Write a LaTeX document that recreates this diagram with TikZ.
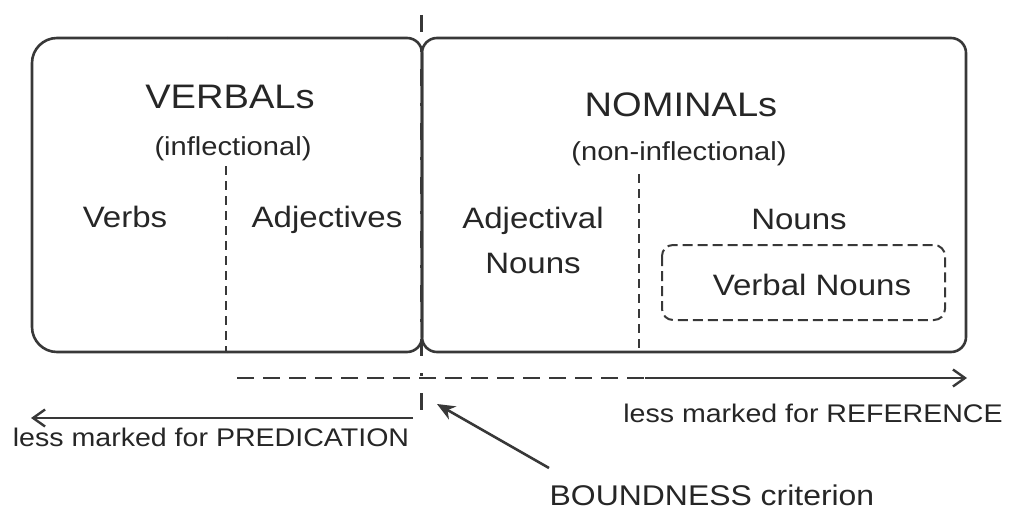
\documentclass[tikz,border=0pt]{standalone}
\usepackage{fontspec}
\setmainfont{Liberation Sans}[FakeStretch=1.12]
\usetikzlibrary{arrows.meta}
\definecolor{ln}{HTML}{383838}
\definecolor{tx}{HTML}{262626}
\begin{document}
\begin{tikzpicture}[x=1pt,y=-1pt,
  lbl/.style={inner sep=0pt, anchor=base, text=tx},
  title/.style={lbl, font=\fontsize{34}{40}\selectfont},
  sub/.style={lbl, font=\fontsize{26}{30}\selectfont},
  cat/.style={lbl, font=\fontsize{29.5}{45}\selectfont, align=center},
  note/.style={lbl, font=\fontsize{25.5}{30}\selectfont},
  boxline/.style={draw=ln, line width=2.6pt},
  divider/.style={draw=ln, line width=2pt, dash pattern=on 9pt off 6pt},
  vnline/.style={draw=ln, line width=2pt, dash pattern=on 10pt off 5pt, rounded corners=11pt},
  boundary/.style={draw=ln, line width=3pt, dash pattern=on 17pt off 17pt on 3pt off 17pt},
  dirline/.style={draw=ln, line width=2.4pt},
  dirarrow/.style={dirline, -{Straight Barb[length=12pt,width=17pt,line width=2.4pt]}},
  pointer/.style={draw=ln, line width=2.6pt, -{Stealth[length=18pt,width=15pt]}}
]
\useasboundingbox (0,0) rectangle (1010,511);

% VERBALs box (left corners larger radius)
\draw[boxline, rounded corners=25pt] (227,38) -- (32,38) -- (32,352) -- (227,352);
\draw[boxline, rounded corners=15pt] (227,38) -- (422,38) -- (422,352) -- (227,352);
% NOMINALs box
\draw[boxline, rounded corners=15pt] (422,38) rectangle (966,352);

% inner dividers
\draw[divider] (226,166) -- (226,352);
\draw[divider] (639,174) -- (639,352);

% Verbal Nouns dashed box
\draw[vnline] (662,245) rectangle (945,320);

% boundary
\coordinate (bt) at (421,15);
\coordinate (bb) at (421,424);
\draw[boundary] (bt) -- (bb);

% reference arrow
\coordinate (rs) at (237,378);
\coordinate (rm) at (645,378);
\coordinate (re) at (967,378);
\draw[dirline, dash pattern=on 17pt off 9pt] (rs) -- (rm);
\draw[dirarrow] (rm) -- (re);

% predication arrow
\coordinate (ps) at (413,418);
\coordinate (pe) at (31,418);
\draw[dirarrow] (ps) -- (pe);

% texts
\node[title] (verbals) at (230,108) {VERBALs};
\node[sub] (infl) at (233,155) {(inflectional)};
\node[cat] (verbs) at (125,227) {Verbs};
\node[cat] (adjs) at (327,227) {Adjectives};
\node[title] (nominals) at (681,117) {NOMINALs};
\node[sub] (noninfl) at (679,160) {(non-inflectional)};
\node[cat] (adjn) at (533,273) {Adjectival\\Nouns};
\node[cat] (nouns) at (799,229) {Nouns};
\node[cat] (vn) at (812,295) {Verbal Nouns};
\node[note] (ref) at (813,422) {less marked for REFERENCE};
\node[note] (pred) at (211,446) {less marked for PREDICATION};
\node[note, font=\fontsize{28.5}{32}\selectfont] (bound) at (712,505) {BOUNDNESS criterion};

% pointer to boundary
\coordinate (ptip) at (437,404);
\coordinate (ptail) at (549,468);
\draw[pointer] (ptail) -- (ptip);
\end{tikzpicture}
\end{document}
